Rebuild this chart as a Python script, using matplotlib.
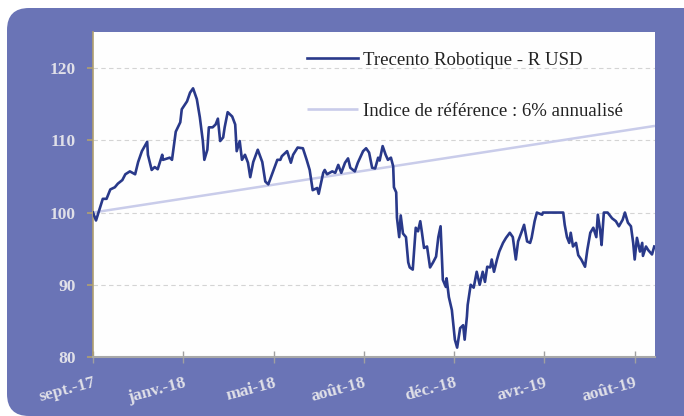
import matplotlib
matplotlib.use("Agg")
import matplotlib.pyplot as plt
from matplotlib.patches import FancyBboxPatch
from matplotlib.transforms import IdentityTransform

# ---- data (days since start, index value) ----
days = [0, 4, 13, 18, 23, 29, 33, 39, 43, 49, 56, 60, 65, 72, 73, 78, 82, 86, 92, 93,
        102, 105, 110, 116, 118, 125, 129, 133, 138, 142, 146, 148, 152, 154, 159, 163,
        166, 169, 173, 175, 179, 185, 189, 191, 195, 198, 202, 206, 209, 213, 219, 225,
        229, 233, 238, 245, 249, 251, 258, 263, 266, 272, 279, 284, 288, 292, 298, 300,
        306, 308, 311, 318, 322, 326, 330, 335, 339, 342, 348, 352, 359, 363, 367, 371,
        375, 379, 381, 385, 389, 392, 396, 399, 400, 403, 404, 407, 409, 412, 416, 419,
        421, 425, 429, 432, 435, 437, 440, 444, 448, 452, 456, 459, 462, 465, 469, 470,
        473, 477, 481, 484, 488, 492, 494, 497, 498, 502, 506, 510, 514, 518, 521, 524,
        528, 530, 533, 537, 540, 545, 549, 554, 558, 562, 565, 570, 573, 577, 581, 583,
        587, 590, 597, 598, 625, 627, 630, 633, 635, 638, 642, 645, 649, 654, 657, 661,
        665, 669, 671, 674, 676, 679, 684, 690, 695, 699, 704, 707, 711, 715, 718, 720,
        723, 727, 730, 731, 735, 738, 743, 746]
fund = [100.0, 98.9, 101.9, 101.9, 103.2, 103.5, 104.0, 104.5, 105.3, 105.7, 105.3, 107.0,
        108.5, 109.8, 108.0, 105.9, 106.3, 106.0, 108.0, 107.3, 107.6, 107.3, 111.2, 112.5,
        114.3, 115.4, 116.6, 117.2, 115.7, 113.2, 109.9, 107.3, 108.7, 111.8, 111.8, 112.2,
        113.0, 109.9, 110.4, 111.8, 113.9, 113.3, 112.2, 108.5, 109.9, 107.3, 108.0, 106.9,
        104.9, 107.0, 108.7, 107.0, 104.3, 103.9, 105.3, 107.3, 107.3, 107.8, 108.5, 106.9,
        108.0, 109.0, 108.9, 107.3, 105.9, 103.1, 103.4, 102.6, 105.5, 105.9, 105.3, 105.7,
        105.5, 106.6, 105.5, 106.9, 107.5, 106.2, 105.7, 106.9, 108.5, 108.9, 108.3, 106.2,
        106.1, 107.6, 107.2, 109.2, 108.0, 107.3, 107.6, 106.4, 103.5, 102.8, 99.3, 96.6,
        99.6, 97.1, 96.6, 93.1, 92.4, 92.1, 97.9, 97.4, 98.8, 97.4, 95.1, 95.3, 92.4, 93.1,
        93.9, 96.6, 98.1, 90.7, 89.7, 90.9, 88.3, 86.5, 82.4, 81.3, 84.0, 84.4, 82.4, 85.6,
        87.2, 90.0, 89.6, 91.8, 90.0, 91.8, 90.4, 92.5, 92.4, 93.5, 91.8, 93.5, 94.6, 95.8,
        96.5, 97.2, 96.6, 93.5, 96.0, 97.4, 98.3, 96.0, 95.8, 96.5, 98.8, 100.0, 99.7, 100.0,
        100.0, 98.3, 96.6, 95.8, 97.2, 95.3, 95.8, 94.1, 93.5, 92.5, 94.8, 97.2, 97.9, 96.6,
        99.7, 97.6, 95.5, 100.0, 100.0, 99.2, 98.8, 98.1, 99.0, 100.0, 98.6, 98.1, 95.8,
        93.5, 96.5, 94.6, 95.8, 94.0, 95.3, 94.8, 94.2, 95.3]
ref_days = [0, 747]
ref_vals = [100.0, 112.0]

tick_days = [0, 120, 240, 360, 480, 600, 720]
tick_labels = ["sept.-17", "janv.-18", "mai-18", "août-18", "déc.-18", "avr.-19", "août-19"]
y_ticks = [80, 90, 100, 110, 120]

fund_label = "Trecento Robotique - R USD"
ref_label = "Indice de référence : 6% annualisé"

# ---- style ----
BG = "#6A74B6"
NAVY = "#29398A"
LAV = "#C9CCEA"
LABEL_C = "#E0E0E8"

fig = plt.figure(figsize=(6.84, 4.16), dpi=100, facecolor="white")
bg = FancyBboxPatch((7, 0), 700, 408, boxstyle="round,pad=0,rounding_size=22",
                    transform=IdentityTransform(), facecolor=BG, edgecolor="none", zorder=-10)
fig.patches.append(bg)

ax = fig.add_axes([93 / 684, (416 - 357) / 416, (655 - 93) / 684, (357 - 32) / 416])
ax.set_facecolor("#FEFEFE")

ax.plot(ref_days, ref_vals, color=LAV, lw=1.8, label=ref_label, zorder=2, solid_capstyle="butt")
ax.plot(days, fund, color=NAVY, lw=1.9, label=fund_label, zorder=3)

ax.set_xlim(0, 747)
ax.set_ylim(80, 125)
ax.set_yticks(y_ticks)
ax.set_xticks(tick_days)
ax.set_xticklabels(tick_labels)

for y in [90, 100, 110, 120]:
    ax.axhline(y, color="#D4D4D4", lw=0.8, ls=(0, (4, 3)), zorder=1)

for s in ["top", "right"]:
    ax.spines[s].set_visible(False)
ax.spines["left"].set_color("#B0A070")
ax.spines["left"].set_linewidth(1.2)
ax.spines["bottom"].set_color("#A8A8A8")
ax.spines["bottom"].set_linewidth(1.5)

ax.tick_params(axis="y", direction="out", length=4.5, width=1.2, color="#B0A070",
               pad=8, labelsize=12.5, labelcolor=LABEL_C)
ax.tick_params(axis="x", direction="inout", length=8, width=1.0, color="#A0A0A0",
               pad=9, labelsize=12.5, labelcolor=LABEL_C)
for lab in ax.get_yticklabels():
    lab.set_fontfamily("Liberation Serif")
    lab.set_fontweight("bold")
for lab in ax.get_xticklabels():
    lab.set_fontfamily("Liberation Serif")
    lab.set_fontweight("bold")
    lab.set_rotation(15)
    lab.set_ha("right")
    lab.set_va("top")
    lab.set_rotation_mode("anchor")

handles, labels = ax.get_legend_handles_labels()
leg = ax.legend(handles[::-1], labels[::-1], loc="upper left", bbox_to_anchor=(0.381, 0.94),
                frameon=False, borderpad=0, borderaxespad=0, handlelength=2.7,
                handletextpad=0.3, labelspacing=1.8,
                prop={"family": "Liberation Serif", "size": 13.5})
for t in leg.get_texts():
    t.set_color("#222222")
for h in leg.get_lines():
    h.set_linewidth(1.9)

fig.savefig("out.png", dpi=100, facecolor="white")
